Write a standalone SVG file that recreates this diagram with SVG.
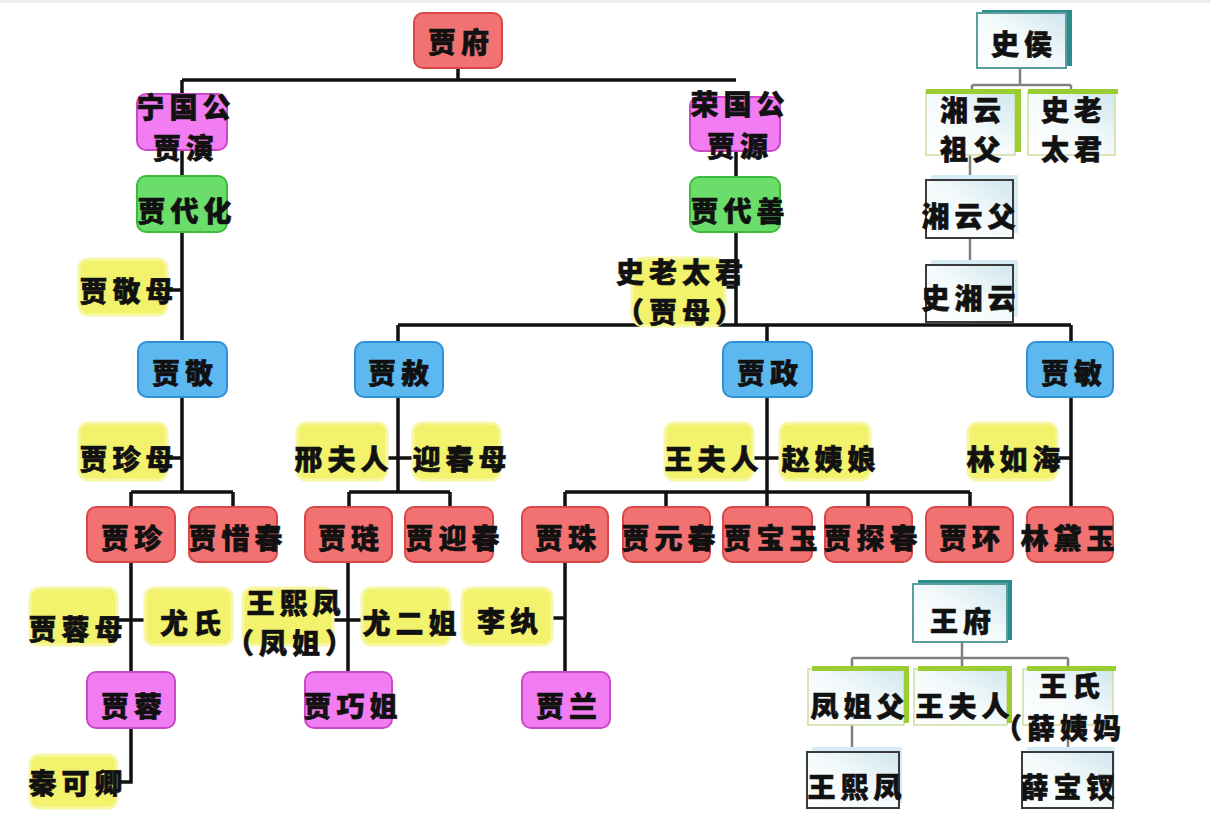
<svg xmlns="http://www.w3.org/2000/svg" width="1211" height="813" viewBox="0 0 1211 813">
<defs>
<style>
.red{fill:#F27272;stroke:#D94848;stroke-width:2}
.mag{fill:#F27CF2;stroke:#C848C8;stroke-width:2}
.grn{fill:#6BDD6B;stroke:#3CBB3C;stroke-width:2}
.blu{fill:#5DB8F0;stroke:#2E90D8;stroke-width:2}
.yel{fill:#F2F26C;stroke:#F7F7A8;stroke-width:3}
.wb{fill:url(#gw);stroke:#3a3a3a;stroke-width:2}
.gb{fill:url(#gw);stroke:#cfdca0;stroke-width:1.5}
.tb{fill:url(#gw);stroke:#5b9c9c;stroke-width:2}
.gbar{fill:#9ACD32}
.tbar{fill:#2B8C8C}
.sh{fill:#d6ecf5}
.t{font-family:"Noto Sans CJK SC","Noto Sans CJK TC",sans-serif;font-size:28px;font-weight:900;fill:#111;stroke:#111;stroke-width:0.6;text-anchor:middle;dominant-baseline:central;letter-spacing:5px}
.k{fill:none;stroke:#111;stroke-width:3.5}
.g{fill:none;stroke:#808080;stroke-width:2.5}
</style>
<linearGradient id="gw" x1="0" y1="1" x2="1" y2="0">
<stop offset="0" stop-color="#ffffff"/>
<stop offset="0.5" stop-color="#f4fafb"/>
<stop offset="1" stop-color="#cfe6ee"/>
</linearGradient>
</defs>
<rect x="0" y="0" width="1211" height="813" fill="#ffffff"/>
<rect x="0" y="0" width="1211" height="3" fill="#eeeeee"/>

<g id="connectors">
<path class="k" d="M458 68V80M182 80H736M182 80V340M167 290H182M167 458H182M182 397V492M131 492H233M131 492V507M233 492V507"/>
<path class="k" d="M736 150V177M736 232V325M725 287H736M398 325H1071M398 325V342M767 325V342M1071 325V342"/>
<path class="k" d="M398 397V492M387 458H413M349 492H450M349 492V507M450 492V507"/>
<path class="k" d="M767 397V507M753 458H780M565 492H970M565 492V507M666 492V507M868 492V507M970 492V507"/>
<path class="k" d="M1071 397V507M1057 458H1071"/>
<path class="k" d="M131 562V672M117 620H145M131 728V782H120"/>
<path class="k" d="M348 562V672M333 620H362"/>
<path class="k" d="M565 562V672M552 618H565"/>
<path class="g" d="M1020 68V85M972 85H1071M972 85V90M1071 85V90M970 155V180M970 238V265"/>
<path class="g" d="M962 642V658M852 658H1068M852 658V667M962 658V667M1068 658V667M852 725V752M1068 725V752"/>
</g>

<g id="n-jiafu"><rect class="red" x="414" y="13" width="88" height="55" rx="9"/><text class="t" x="461" y="41">贾府</text></g>
<g id="n-ningguogong"><rect class="mag" x="137" y="94" width="90" height="56" rx="9"/><text class="t" x="186" y="106">宁国公</text><text class="t" x="186" y="147">贾演</text></g>
<g id="n-rongguogong"><rect class="mag" x="690" y="97" width="90" height="54" rx="9"/><text class="t" x="740" y="103">荣国公</text><text class="t" x="740" y="145">贾源</text></g>
<g id="n-jiadaihua"><rect class="grn" x="137" y="176" width="90" height="56" rx="9"/><text class="t" x="187" y="210">贾代化</text></g>
<g id="n-jiadaishan"><rect class="grn" x="690" y="177" width="90" height="55" rx="9"/><text class="t" x="740" y="210">贾代善</text></g>
<g id="n-jiajingmu"><rect class="yel" x="79" y="259" width="88" height="56" rx="9"/><text class="t" x="129" y="290">贾敬母</text></g>
<g id="n-shilaotaijun"><rect class="yel" x="632" y="258" width="93" height="68" rx="12"/><text class="t" x="682" y="271">史老太君</text><text class="t" x="682" y="311">（贾母）</text></g>

<g id="n-jiajing"><rect class="blu" x="138" y="342" width="89" height="55" rx="9"/><text class="t" x="185" y="372">贾敬</text></g>
<g id="n-jiashe"><rect class="blu" x="355" y="342" width="88" height="55" rx="9"/><text class="t" x="401" y="372">贾赦</text></g>
<g id="n-jiazheng"><rect class="blu" x="723" y="342" width="89" height="55" rx="9"/><text class="t" x="770" y="372">贾政</text></g>
<g id="n-jiamin"><rect class="blu" x="1027" y="342" width="86" height="55" rx="9"/><text class="t" x="1074" y="372">贾敏</text></g>

<g id="n-jiazhenmu"><rect class="yel" x="79" y="423" width="88" height="57" rx="9"/><text class="t" x="129" y="458">贾珍母</text></g>
<g id="n-xingfuren"><rect class="yel" x="297" y="423" width="90" height="57" rx="9"/><text class="t" x="344" y="458">邢夫人</text></g>
<g id="n-yingchunmu"><rect class="yel" x="413" y="423" width="87" height="57" rx="9"/><text class="t" x="462" y="458">迎春母</text></g>
<g id="n-wangfuren"><rect class="yel" x="665" y="423" width="88" height="57" rx="9"/><text class="t" x="714" y="458">王夫人</text></g>
<g id="n-zhaoyiniang"><rect class="yel" x="780" y="423" width="90" height="57" rx="9"/><text class="t" x="831" y="458">赵姨娘</text></g>
<g id="n-linruhai"><rect class="yel" x="968" y="423" width="89" height="57" rx="9"/><text class="t" x="1016" y="458">林如海</text></g>

<g id="n-jiazhen"><rect class="red" x="87" y="507" width="88" height="55" rx="9"/><text class="t" x="134" y="537">贾珍</text></g>
<g id="n-jiaxichun"><rect class="red" x="189" y="507" width="88" height="55" rx="9"/><text class="t" x="238" y="537">贾惜春</text></g>
<g id="n-jialian"><rect class="red" x="305" y="507" width="87" height="55" rx="9"/><text class="t" x="351" y="537">贾琏</text></g>
<g id="n-jiayingchun"><rect class="red" x="405" y="507" width="88" height="55" rx="9"/><text class="t" x="455" y="537">贾迎春</text></g>
<g id="n-jiazhu"><rect class="red" x="522" y="507" width="86" height="55" rx="9"/><text class="t" x="568" y="537">贾珠</text></g>
<g id="n-jiayuanchun"><rect class="red" x="623" y="507" width="87" height="55" rx="9"/><text class="t" x="671" y="537">贾元春</text></g>
<g id="n-jiabaoyu"><rect class="red" x="723" y="507" width="89" height="55" rx="9"/><text class="t" x="773" y="537">贾宝玉</text></g>
<g id="n-jiatanchun"><rect class="red" x="825" y="507" width="87" height="55" rx="9"/><text class="t" x="873" y="537">贾探春</text></g>
<g id="n-jiahuan"><rect class="red" x="926" y="507" width="87" height="55" rx="9"/><text class="t" x="972" y="537">贾环</text></g>
<g id="n-lindaiyu"><rect class="red" x="1027" y="507" width="86" height="55" rx="9"/><text class="t" x="1070" y="537">林黛玉</text></g>

<g id="n-jiarongmu"><rect class="yel" x="30" y="588" width="87" height="57" rx="9"/><text class="t" x="78" y="628">贾蓉母</text></g>
<g id="n-youshi"><rect class="yel" x="145" y="588" width="87" height="57" rx="9"/><text class="t" x="193" y="622">尤氏</text></g>
<g id="n-wangxifeng"><rect class="yel" x="243" y="588" width="90" height="57" rx="9"/><text class="t" x="296" y="602">王熙凤</text><text class="t" x="292" y="642">（凤姐）</text></g>
<g id="n-youerjie"><rect class="yel" x="362" y="588" width="88" height="57" rx="9"/><text class="t" x="412" y="622">尤二姐</text></g>
<g id="n-liwan"><rect class="yel" x="462" y="588" width="90" height="57" rx="9"/><text class="t" x="510" y="620">李纨</text></g>

<g id="n-jiarong"><rect class="mag" x="87" y="672" width="88" height="56" rx="9"/><text class="t" x="134" y="705">贾蓉</text></g>
<g id="n-jiaqiaojie"><rect class="mag" x="305" y="672" width="87" height="56" rx="9"/><text class="t" x="353" y="705">贾巧姐</text></g>
<g id="n-jialan"><rect class="mag" x="522" y="672" width="88" height="56" rx="9"/><text class="t" x="569" y="705">贾兰</text></g>
<g id="n-qinkeqing"><rect class="yel" x="30" y="755" width="87" height="53" rx="9"/><text class="t" x="78" y="782">秦可卿</text></g>

<g id="n-shihou"><rect class="tbar" x="982" y="10" width="90" height="56"/><rect class="tb" x="977" y="13" width="89" height="55"/><text class="t" x="1024" y="43">史侯</text></g>
<g id="n-xiangyunzufu"><rect class="gb" x="926" y="92" width="89" height="63"/><rect class="gbar" x="926" y="89" width="95" height="5"/><rect class="gbar" x="1015" y="89" width="6" height="63"/><text class="t" x="973" y="109">湘云</text><text class="t" x="973" y="148">祖父</text></g>
<g id="n-shilaotaijun2"><rect class="gb" x="1028" y="92" width="87" height="63"/><rect class="gbar" x="1028" y="89" width="90" height="5"/><text class="t" x="1074" y="109">史老</text><text class="t" x="1074" y="148">太君</text></g>
<g id="n-xiangyunfu"><rect class="sh" x="931" y="175" width="87" height="58"/><rect class="wb" x="926" y="180" width="87" height="58"/><text class="t" x="971" y="215">湘云父</text></g>
<g id="n-shixiangyun"><rect class="sh" x="931" y="260" width="87" height="57"/><rect class="wb" x="926" y="265" width="87" height="57"/><text class="t" x="971" y="297">史湘云</text></g>

<g id="n-wangfu"><rect class="tbar" x="918" y="580" width="94" height="60"/><rect class="tb" x="913" y="584" width="94" height="58"/><text class="t" x="963" y="620">王府</text></g>
<g id="n-fengjiefu"><rect class="gb" x="808" y="669" width="96" height="56"/><rect class="gbar" x="812" y="666" width="97" height="5"/><rect class="gbar" x="904" y="666" width="5" height="57"/><text class="t" x="860" y="705">凤姐父</text></g>
<g id="n-wangfuren2"><rect class="gb" x="914" y="669" width="93" height="56"/><rect class="gbar" x="918" y="666" width="94" height="5"/><rect class="gbar" x="1007" y="666" width="5" height="57"/><text class="t" x="965" y="705">王夫人</text></g>
<g id="n-wangshi"><rect class="gb" x="1023" y="669" width="90" height="56"/><rect class="gbar" x="1027" y="666" width="89" height="5"/><text class="t" x="1072" y="685">王氏</text><text class="t" x="1060" y="727">（薛姨妈</text></g>
<g id="n-wangxifeng2"><rect class="sh" x="812" y="747" width="90" height="56"/><rect class="wb" x="807" y="752" width="92" height="56"/><text class="t" x="857" y="786">王熙凤</text></g>
<g id="n-xuebaochai"><rect class="sh" x="1027" y="747" width="88" height="56"/><rect class="wb" x="1022" y="752" width="91" height="56"/><text class="t" x="1070" y="786">薛宝钗</text></g>
</svg>
